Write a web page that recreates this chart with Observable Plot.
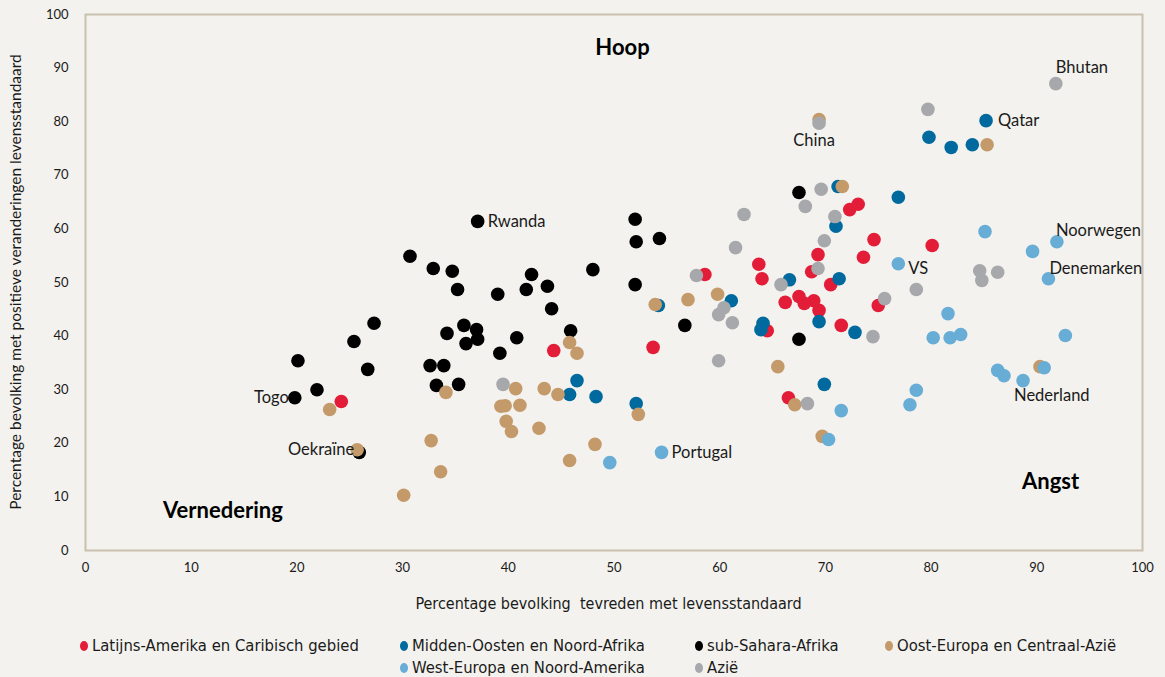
<!DOCTYPE html>
<html>
<head>
<meta charset="utf-8">
<script src="https://cdn.jsdelivr.net/npm/d3@7"></script>
<script src="https://cdn.jsdelivr.net/npm/@observablehq/plot@0.6"></script>
<style>
  html, body { margin: 0; padding: 0; background: #f3f2ee; }
  #wrap { position: relative; width: 1165px; height: 677px; background: #f3f2ee; overflow: hidden; }
  #legend { position: absolute; left: 0; top: 630px; width: 1165px; height: 47px;
    font-family: "Liberation Sans Narrow", "DejaVu Sans Condensed", Lato, sans-serif; font-size: 16.5px; color: #1a1a1a; }
  .item { position: absolute; white-space: nowrap; display: flex; align-items: center; }
  .sw { width: 8px; height: 10px; border-radius: 50%; display: inline-block; margin-right: 4px; }
</style>
</head>
<body>
<div id="wrap"><div id="chart"></div><div id="legend"></div></div>
<script>
const regions = ["Latijns-Amerika en Caribisch gebied", "Midden-Oosten en Noord-Afrika", "sub-Sahara-Afrika", "Oost-Europa en Centraal-Azië", "West-Europa en Noord-Amerika", "Azië"];
const regionColors = ["#e31d38", "#006a9e", "#000000", "#c49a6a", "#67add6", "#a7a8ab"];
const xTicks = [0, 10, 20, 30, 40, 50, 60, 70, 80, 90, 100];
const yTicks = [0, 10, 20, 30, 40, 50, 60, 70, 80, 90, 100];

// [tevreden met levensstandaard, positieve veranderingen]
const subSahara = [[19.8,28.5],[20.1,35.4],[21.9,30.0],[25.4,39.0],[26.7,33.8],[27.3,42.4],[25.9,18.3],[30.7,54.9],[32.9,52.6],[34.7,52.1],[35.2,48.7],[37.1,61.4],[39.0,47.8],[32.6,34.5],[33.9,34.5],[33.2,30.8],[35.3,31.0],[34.2,40.5],[35.8,42.0],[37.0,41.2],[36.0,38.6],[37.1,39.4],[39.2,36.8],[40.8,39.7],[41.7,48.7],[42.2,51.5],[43.7,49.3],[44.1,45.1],[45.9,41.0],[48.0,52.4],[52.0,61.8],[52.1,57.6],[54.3,58.2],[52.0,49.6],[56.7,42.0],[67.5,66.8],[67.5,39.4]];
const latijnsAmerika = [[24.2,27.8],[44.3,37.3],[53.7,37.9],[58.6,51.5],[63.7,53.4],[64.0,50.7],[64.5,41.0],[66.2,46.3],[66.5,28.5],[67.5,47.4],[68.0,46.1],[68.9,46.6],[69.4,44.8],[69.3,55.2],[68.7,52.0],[70.5,49.6],[71.5,42.0],[72.3,63.6],[73.1,64.6],[74.6,58.0],[73.6,54.7],[75.0,45.7],[80.1,56.9]];
const middenOosten = [[46.5,31.7],[45.8,29.1],[48.3,28.7],[52.1,27.4],[54.2,45.7],[61.1,46.6],[66.6,50.5],[64.1,42.4],[63.9,41.2],[69.4,42.7],[71.3,50.7],[71.0,60.5],[71.2,67.9],[72.8,40.7],[76.9,65.9],[69.9,31.0],[79.8,77.1],[81.9,75.2],[83.9,75.7],[85.2,80.2]];
const oostEuropa = [[23.1,26.3],[25.7,18.8],[34.1,29.5],[32.7,20.5],[33.6,14.7],[30.1,10.3],[40.7,30.2],[43.4,30.2],[44.7,29.1],[39.3,26.9],[39.7,27.0],[41.1,27.1],[39.8,24.1],[40.3,22.2],[42.9,22.8],[48.2,19.8],[45.8,16.8],[52.3,25.4],[45.8,38.8],[46.5,36.8],[53.9,45.9],[57.0,46.8],[59.8,47.8],[69.4,80.4],[71.6,67.9],[65.5,34.3],[67.1,27.2],[69.7,21.3],[85.3,75.7],[90.3,34.3]];
const westEuropa = [[49.6,16.4],[54.5,18.3],[71.5,26.1],[70.3,20.7],[76.9,53.5],[85.1,59.5],[89.6,55.8],[91.9,57.6],[91.1,50.7],[81.6,44.2],[80.2,39.7],[81.8,39.7],[82.8,40.3],[92.7,40.1],[86.3,33.6],[86.9,32.6],[88.7,31.7],[90.7,34.1],[78.6,29.9],[78.0,27.2]];
const azie = [[39.5,31.0],[57.8,51.3],[62.3,62.7],[61.5,56.5],[60.4,45.3],[59.9,44.0],[61.2,42.5],[65.8,49.6],[69.3,52.6],[69.9,57.8],[70.9,62.3],[68.1,64.2],[69.6,67.4],[69.4,79.7],[74.5,39.9],[75.6,47.0],[59.9,35.4],[68.3,27.4],[79.7,82.3],[91.8,87.1],[84.6,52.2],[84.8,50.4],[86.3,51.9],[78.6,48.7]];

const countryLabels = [
  {name: "Togo", x: 19.8, y: 28.5, anchor: "end", dx: -6, dy: 0},
  {name: "Oekraïne", x: 25.7, y: 18.8, anchor: "end", dx: -3, dy: 0},
  {name: "Rwanda", x: 37.1, y: 61.4, anchor: "start", dx: 10, dy: 0},
  {name: "China", x: 69.4, y: 79.7, anchor: "middle", dx: -5, dy: 17},
  {name: "Bhutan", x: 91.8, y: 87.1, anchor: "start", dx: 0, dy: -16},
  {name: "Qatar", x: 85.2, y: 80.2, anchor: "start", dx: 12, dy: 0},
  {name: "Noorwegen", x: 91.9, y: 57.6, anchor: "start", dx: -1, dy: -11},
  {name: "Denemarken", x: 91.1, y: 50.7, anchor: "start", dx: 1, dy: -10},
  {name: "VS", x: 76.9, y: 53.5, anchor: "start", dx: 10, dy: 5},
  {name: "Nederland", x: 88.7, y: 31.7, anchor: "start", dx: -9, dy: 15},
  {name: "Portugal", x: 54.5, y: 18.3, anchor: "start", dx: 10, dy: 0}
];
const quadrantLabels = [
  {name: "Hoop", x: 50.8, y: 93.7},
  {name: "Vernedering", x: 13.0, y: 7.3},
  {name: "Angst", x: 91.3, y: 12.7}
];

// draw order (bottom to top)
const series = [
  [regions[2], subSahara],
  [regions[0], latijnsAmerika],
  [regions[1], middenOosten],
  [regions[3], oostEuropa],
  [regions[4], westEuropa],
  [regions[5], azie]
];
const points = series.flatMap(([region, pts]) => pts.map(([x, y]) => ({region, x, y})));

const font = "Lato, 'Open Sans', sans-serif";

const chart = Plot.plot({
  width: 1165,
  height: 620,
  marginLeft: 85,
  marginRight: 23,
  marginTop: 14,
  marginBottom: 70,
  style: {background: "#f3f2ee", fontFamily: font, fontSize: "13px", color: "#1a1a1a", overflow: "visible"},
  x: {domain: [0, 100]},
  y: {domain: [0, 100]},
  color: {domain: regions, range: regionColors},
  marks: [
    Plot.frame({stroke: "#c9c0ae", strokeWidth: 2}),
    Plot.axisX(xTicks, {tickSize: 0, tickPadding: 12, fontSize: 13, label: null}),
    Plot.axisY(yTicks, {tickSize: 0, tickPadding: 17, fontSize: 13, label: null}),
    Plot.dot(points, {x: "x", y: "y", fill: "region", r: 6.8}),
    ...countryLabels.map(l => Plot.text([l], {x: "x", y: "y", text: "name",
      textAnchor: l.anchor, dx: l.dx, dy: l.dy, fontSize: 16.5, fill: "#1a1a1a", fontFamily: font})),
    Plot.text(quadrantLabels, {x: "x", y: "y", text: "name", fontWeight: "bold",
      fontSize: 22, fill: "#000", fontFamily: font})
  ]
});
document.getElementById("chart").appendChild(chart);

// axis titles as SVG text positioned from the plot's own scales
const svg = d3.select(chart.tagName.toLowerCase() === "svg" ? chart : chart.querySelector("svg"));
const sx = chart.scale("x"), sy = chart.scale("y");
svg.append("text")
  .attr("x", (sx.apply(0) + sx.apply(100)) / 2 - 5)
  .attr("y", 604)
  .attr("text-anchor", "middle")
  .attr("dominant-baseline", "middle")
  .attr("font-family", "'Liberation Sans Narrow', 'DejaVu Sans Condensed', Lato, sans-serif")
  .attr("font-size", 16)
  .attr("fill", "#1a1a1a")
  .text("Percentage bevolking  tevreden met levensstandaard");
svg.append("text")
  .attr("transform", `translate(17,${(sy.apply(0) + sy.apply(100)) / 2}) rotate(-90)`)
  .attr("text-anchor", "middle")
  .attr("dominant-baseline", "middle")
  .attr("font-family", font)
  .attr("font-size", 15.5)
  .attr("fill", "#1a1a1a")
  .text("Percentage bevolking met positieve veranderingen levensstandaard");

// legend
const legendPos = [
  {i: 0, left: 80, top: 6},
  {i: 1, left: 400, top: 6},
  {i: 2, left: 695, top: 6},
  {i: 3, left: 885, top: 6},
  {i: 4, left: 400, top: 28},
  {i: 5, left: 695, top: 28}
];
const legend = document.getElementById("legend");
legendPos.forEach(p => {
  const d = document.createElement("div");
  d.className = "item";
  d.style.left = p.left + "px";
  d.style.top = p.top + "px";
  d.innerHTML = `<span class="sw" style="background:${regionColors[p.i]}"></span><span>${regions[p.i]}</span>`;
  legend.appendChild(d);
});
</script>
</body>
</html>
